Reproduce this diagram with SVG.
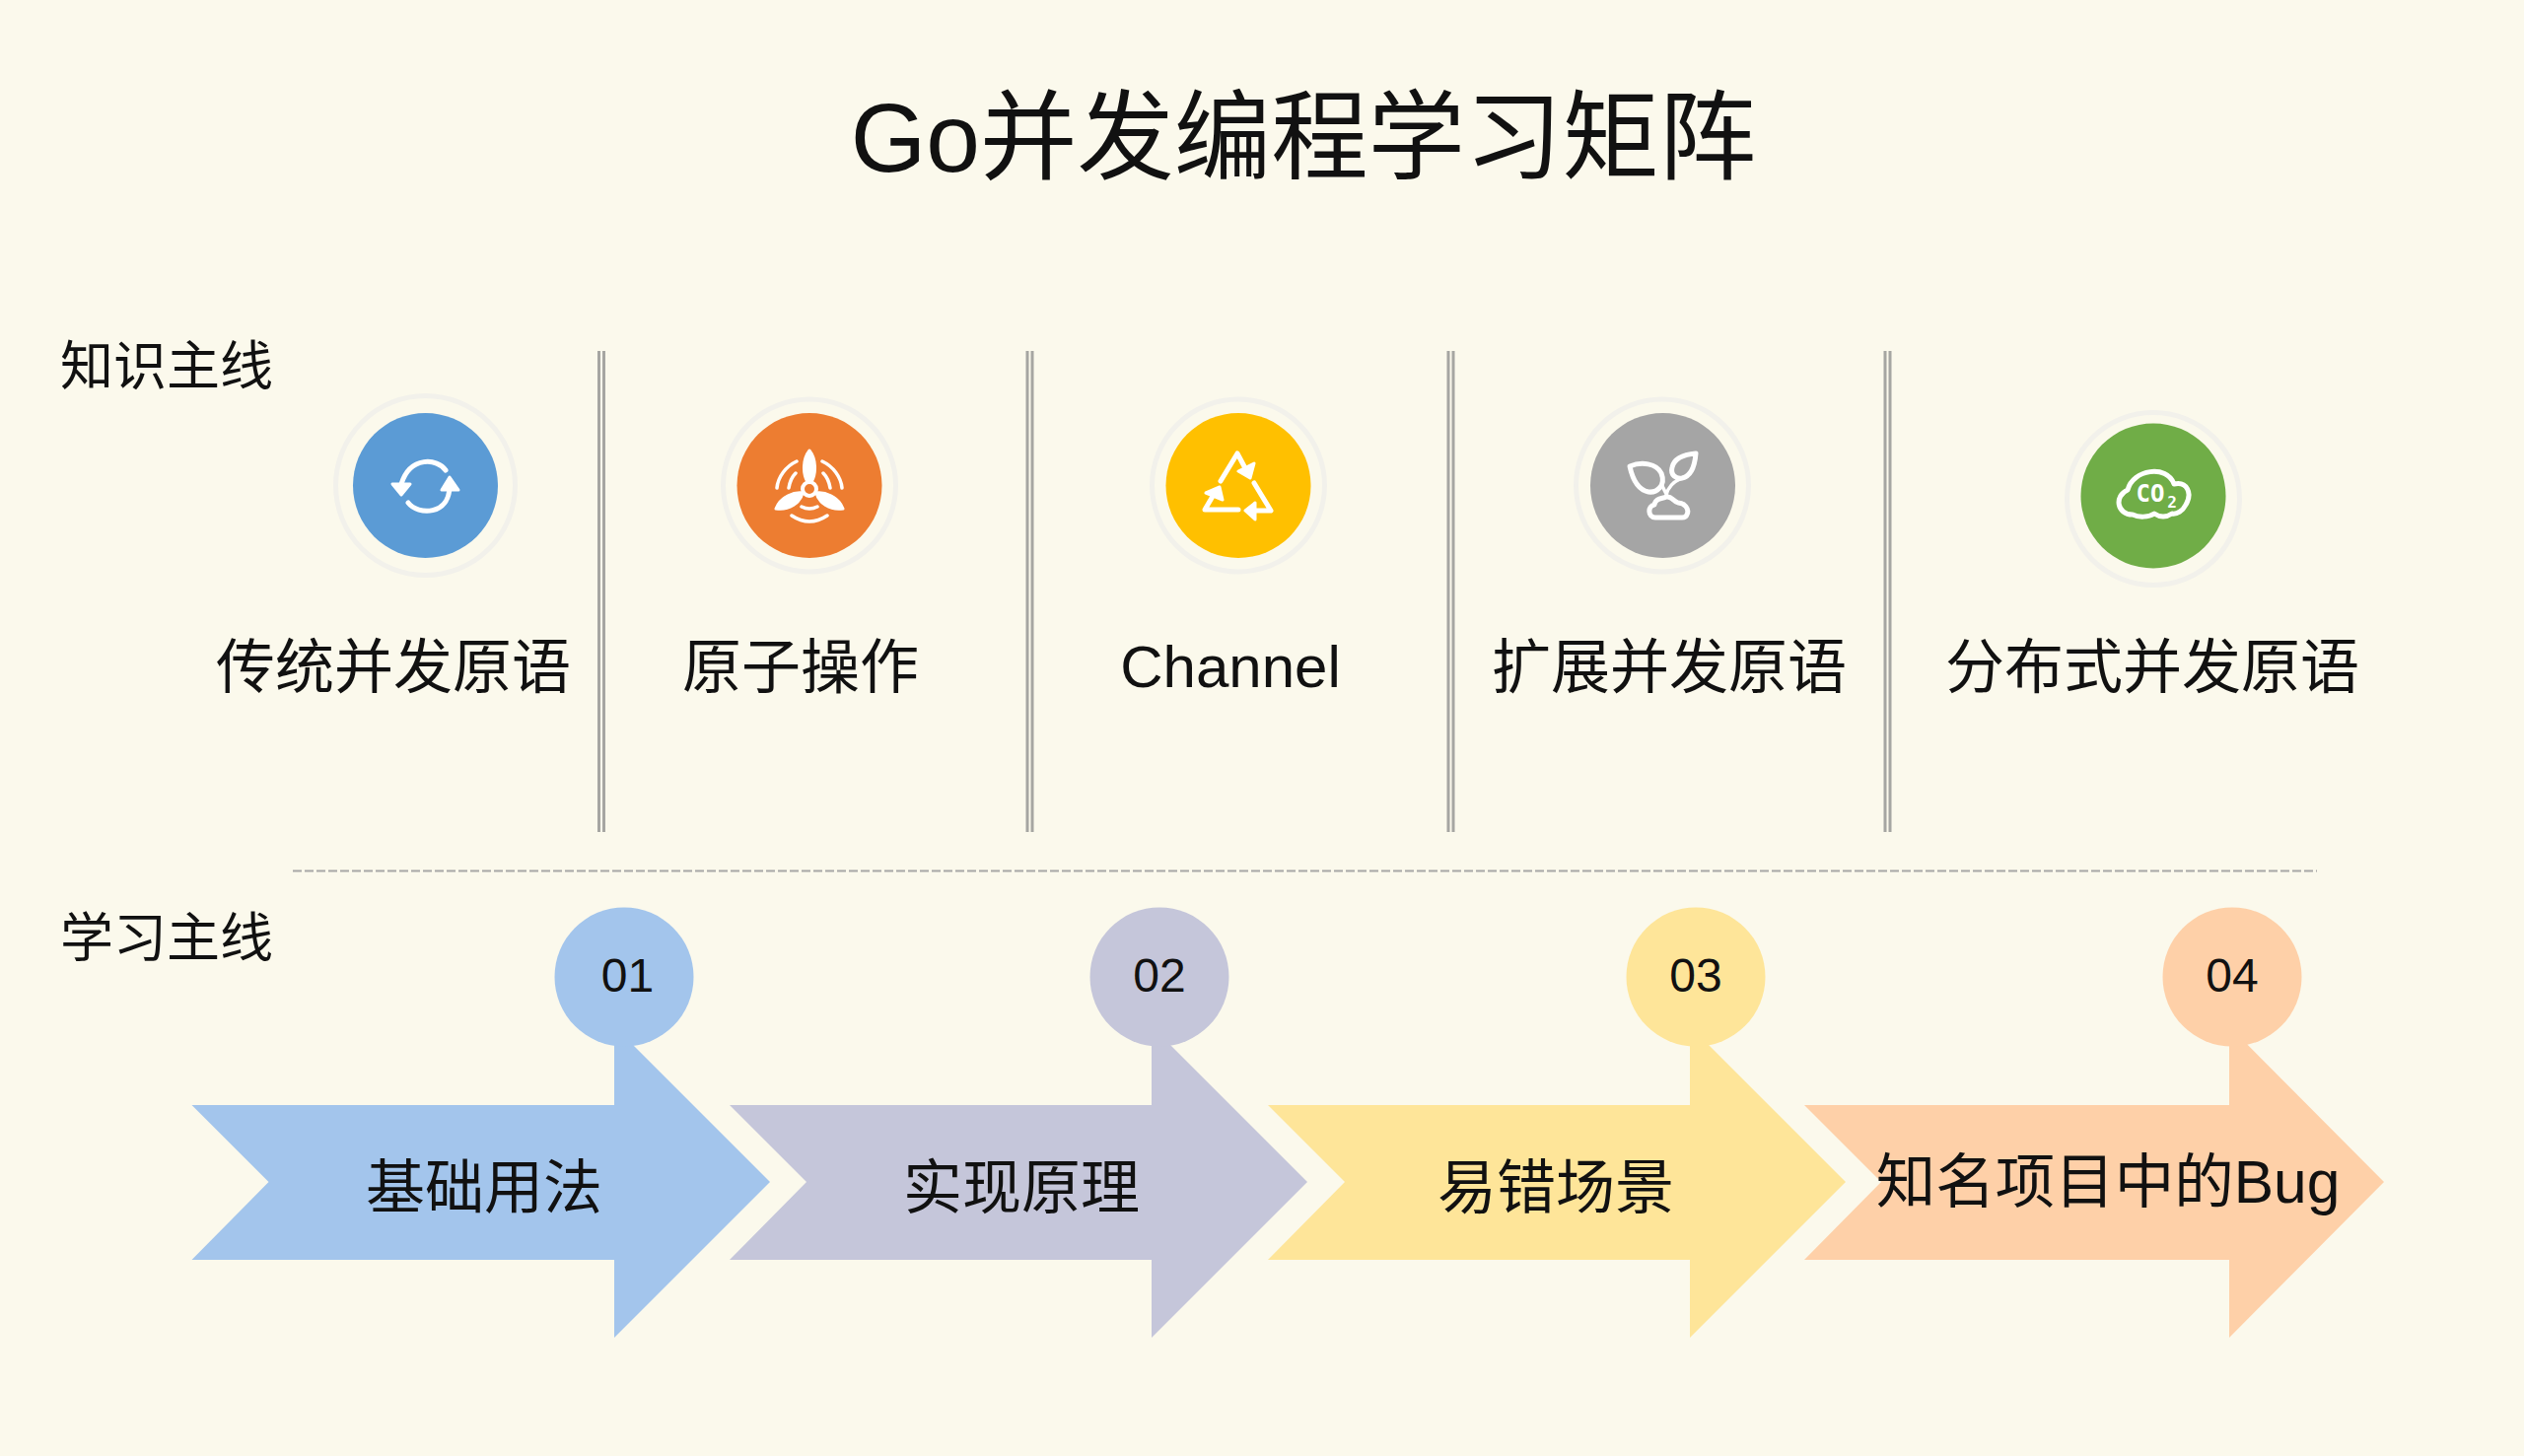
<svg xmlns="http://www.w3.org/2000/svg" width="2560" height="1477" viewBox="0 0 2560 1477">
<style>
text{font-family:"Liberation Sans","Noto Sans CJK SC",sans-serif;fill:#111;font-weight:400;text-anchor:middle}
.t{font-size:60px}.s{font-size:54px}.n{font-size:48px}
.v{fill:none;stroke:#a6a6a2;stroke-width:3}
.ring{fill:none;stroke:#f2f1eb;stroke-width:5}
.ic{fill:none;stroke:#fff;stroke-width:5;stroke-linecap:round;stroke-linejoin:round}
.thin{stroke-width:3.500}
.icf{fill:#fff;stroke:#fff;stroke-width:3;stroke-linejoin:round}
.co{font-family:"DejaVu Sans Mono",monospace;font-weight:700;fill:#fff}
</style>
<rect width="2560" height="1477" fill="#fbf9ec"/>
<text id="title" x="1322" y="174" style="font-size:98.400px">Go并发编程学习矩阵</text>
<text x="169" y="391" class="s">知识主线</text>
<text x="169" y="971" class="s">学习主线</text>
<g id="connectors">
<path class="v" d="M607.500 356V844M612.500 356V844M1042 356V844M1047 356V844M1469 356V844M1474 356V844M1912 356V844M1917 356V844"/>
<path d="M297 883.500H2350" fill="none" stroke="#a8a8a6" stroke-width="2" stroke-dasharray="9 3"/>
</g>
<g id="node1"><circle class="ring" cx="431.500" cy="492.500" r="91"/><circle cx="431.500" cy="492.500" r="73.500" fill="#5b9bd5"/>
<path class="ic" d="M452 477C444 465 416 462 407 491M414 510C424 523 456 523 456 493"/>
<path class="icf" d="M398 491H416L407 502ZM448 497H465L456 484Z"/>
<text x="399" y="698" class="t">传统并发原语</text></g>
<g id="node2"><circle class="ring" cx="821" cy="492.500" r="87.500"/><circle cx="821" cy="492.500" r="73.500" fill="#ed7d31"/>
<path class="icf" d="M821 457C814 466 814 480 819 489H823C828 480 828 466 821 457ZM787 516C792 503 806 499 814 500C812 510 800 518 787 516ZM855 516C850 503 836 499 828 500C830 510 842 518 855 516Z"/>
<circle cx="821" cy="496" r="7" fill="#ed7d31" stroke="#fff" stroke-width="4"/>
<path class="ic thin" d="M788 495C789 484 797 473 808 468M854 495C853 484 845 473 834 468M800 495C801 489 803 484 807 480M842 495C841 489 839 484 835 480M813 514Q821 518 829 514M803 523Q821 535 839 523"/>
<text x="812" y="698" class="t">原子操作</text></g>
<g id="node3"><circle class="ring" cx="1256" cy="492.500" r="87.500"/><circle cx="1256" cy="492.500" r="73.500" fill="#ffc000"/>
<path class="ic" d="M1238 488L1255 460L1263 475M1272 490L1289 518H1270M1256 517H1222L1232 500"/>
<path class="icf" d="M1272 470L1268 485L1256 478ZM1223 500L1237 494L1240 507ZM1273 510V527L1263 518Z"/>
<text x="1248" y="697" class="t">Channel</text></g>
<g id="node4"><circle class="ring" cx="1686" cy="492.500" r="87.500"/><circle cx="1686.500" cy="492.500" r="73.500" fill="#a5a5a5"/>
<path class="ic" d="M1653 473C1665 468 1680 470 1685 480C1690 493 1680 500 1672 499C1662 497 1656 487 1653 473ZM1720 460C1708 461 1698 465 1696 474C1694 482 1700 486 1706 485C1716 483 1719 472 1720 460Z"/>
<path class="ic thin" d="M1686 493L1691 503M1704 486C1697 489 1692 494 1690 502"/>
<path class="ic" d="M1679 525C1671 525 1671 513 1678 512C1679 505 1686 506 1690 504C1696 503 1696 508 1702 510C1708 510 1714 516 1711 522C1710 525 1708 525 1706 525Z"/>
<text x="1693" y="698" class="t">扩展并发原语</text></g>
<g id="node5"><circle class="ring" cx="2184" cy="506" r="87.500"/><circle cx="2184" cy="503" r="73.500" fill="#70ad47"/>
<path class="ic" d="M2163 522C2147 522 2144 503 2158 497C2163 476 2198 471 2205 491C2218 488 2224 500 2217 512C2214 518 2208 522 2203 521C2197 525 2191 525 2185 521C2179 525 2169 525 2163 522Z"/>
<text x="2181" y="509" class="co" style="font-size:24px">CO</text><text x="2203" y="515" class="co" style="font-size:16px">2</text>
<text x="2183" y="698" class="t">分布式并发原语</text></g>
<g id="step1"><path d="M194.500 1121H623V1041L781 1199L623 1357V1278H194.500L272.500 1199Z" fill="#a3c5ec"/><circle cx="633" cy="991" r="70.500" fill="#a3c5ec"/>
<text x="636.500" y="1006" class="n">01</text><text x="491" y="1226" class="t">基础用法</text></g>
<g id="step2"><path d="M740 1121H1168V1041L1326 1199L1168 1357V1278H740L818 1199Z" fill="#c5c6da"/><circle cx="1176" cy="991" r="70.500" fill="#c5c6da"/>
<text x="1176" y="1006" class="n">02</text><text x="1036" y="1226" class="t">实现原理</text></g>
<g id="step3"><path d="M1286 1121H1714V1041L1872 1199L1714 1357V1278H1286L1364 1199Z" fill="#fee599"/><circle cx="1720" cy="991" r="70.500" fill="#fee599"/>
<text x="1720" y="1006" class="n">03</text><text x="1578" y="1226" class="t">易错场景</text></g>
<g id="step4"><path d="M1830 1121H2261V1041L2418 1199L2261 1357V1278H1830L1908 1199Z" fill="#fed0a8"/><circle cx="2264" cy="991" r="70.500" fill="#fed0a8"/>
<text x="2264" y="1006" class="n">04</text><text x="2138" y="1220" class="t" style="font-size:60.500px">知名项目中的Bug</text></g>
</svg>
